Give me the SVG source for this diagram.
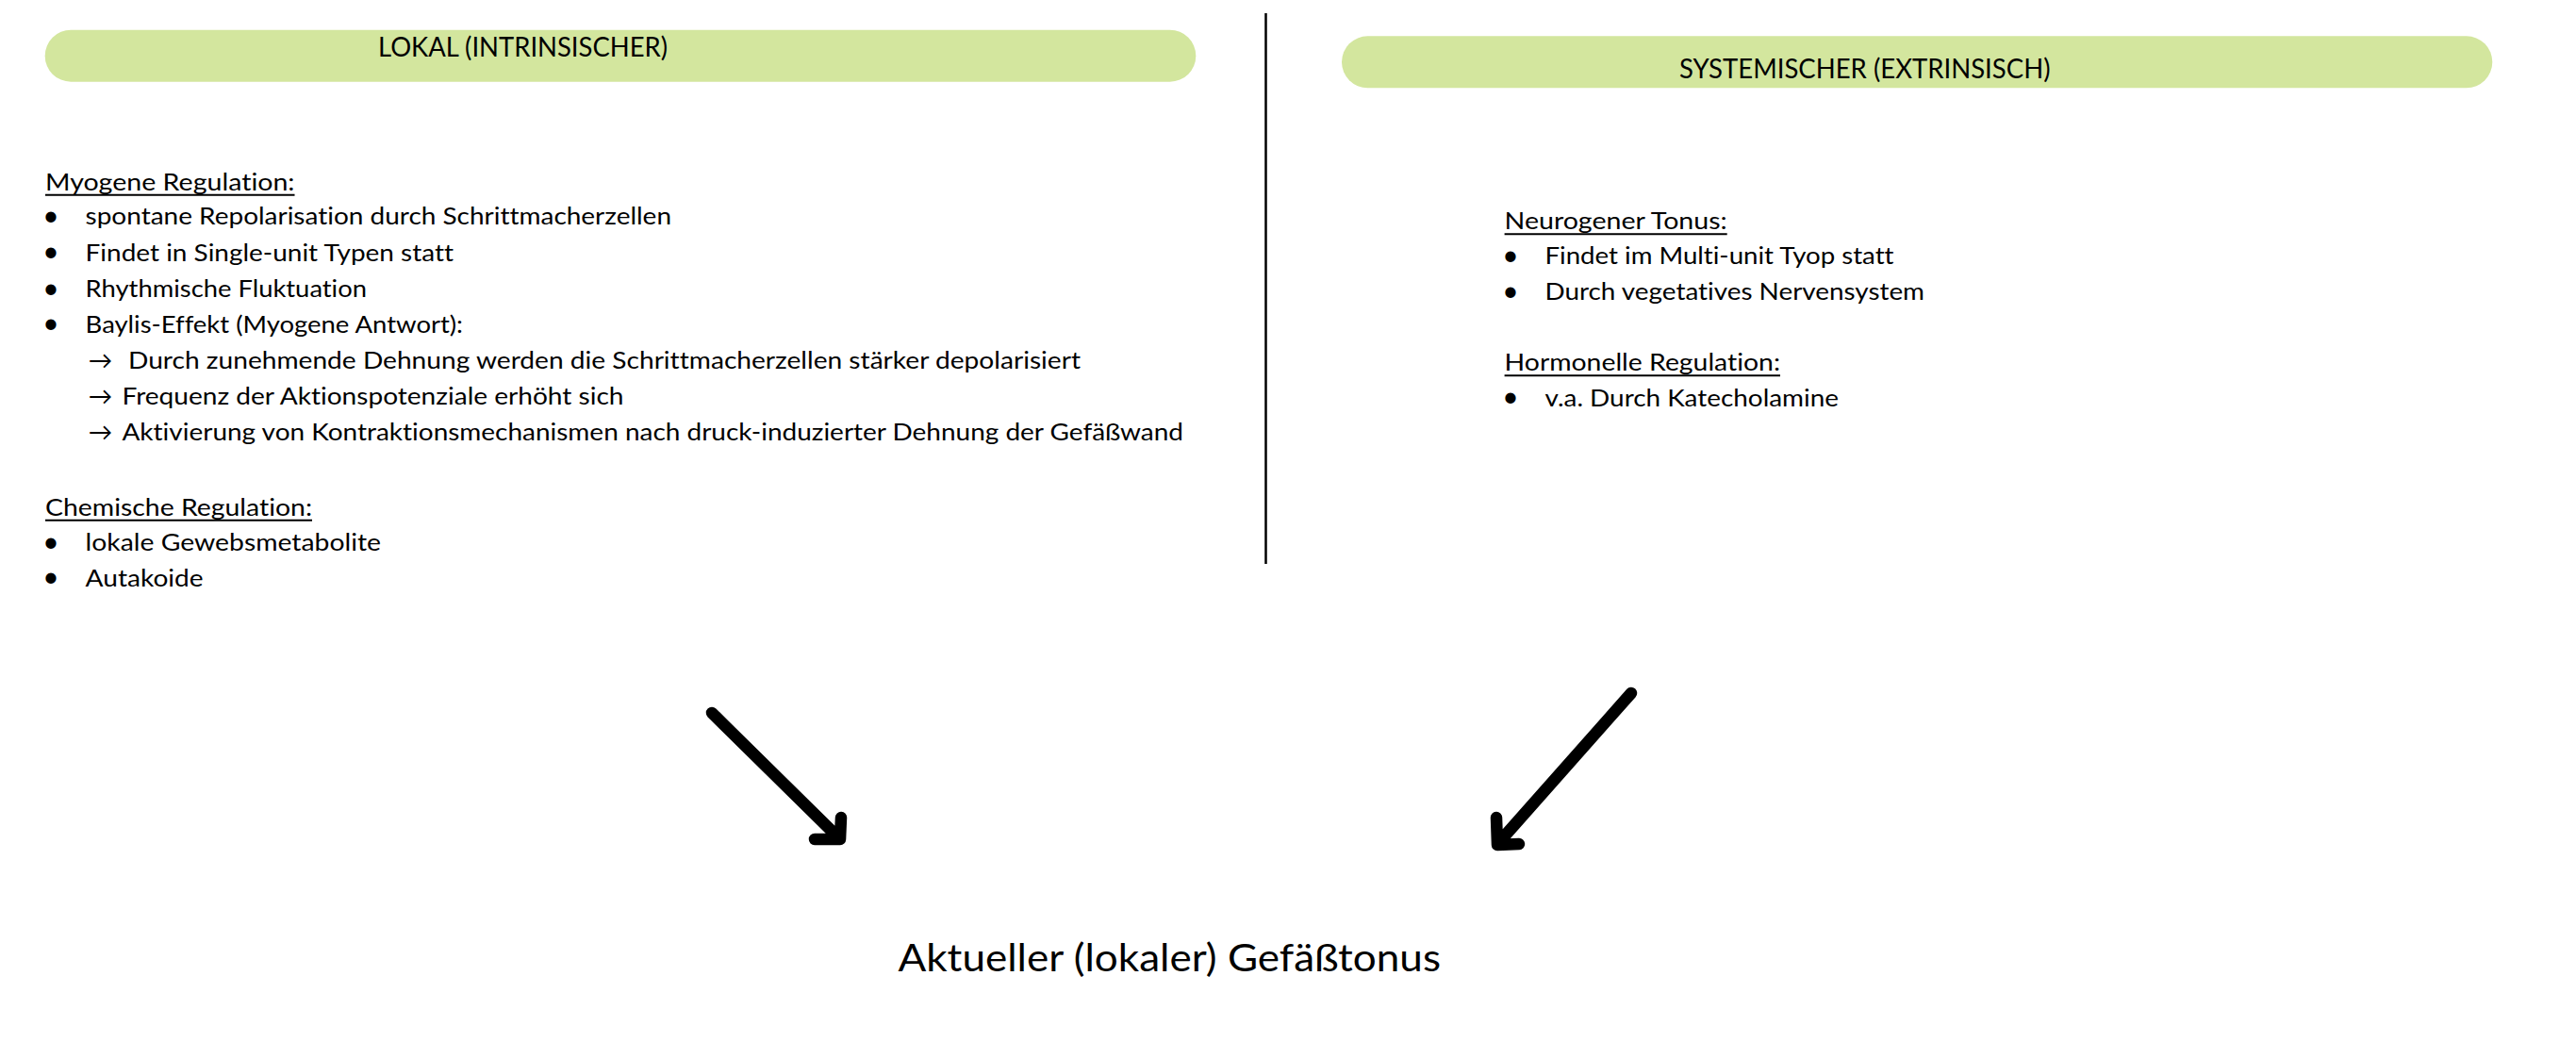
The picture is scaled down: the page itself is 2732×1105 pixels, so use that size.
<svg xmlns="http://www.w3.org/2000/svg" width="2732" height="1105" viewBox="0 0 2732 1105">
<style>
text{font-family:Lato,"Noto Sans","Liberation Sans",sans-serif;fill:#000;font-variant-ligatures:none;font-feature-settings:"liga" 0,"clig" 0}
.b{font-size:25.5px}
.h{font-size:28px}
.big{font-size:41px}
.dot{font-size:30px}
.ul{stroke:#000;stroke-width:2}
.pill{fill:#D3E69E}
.arr{fill:none;stroke:#000;stroke-width:12.5;stroke-linecap:round;stroke-linejoin:round}
</style>
<rect width="2732" height="1105" fill="#fff"/>
<g id="header-local">
<rect class="pill" x="47.7" y="31.7" width="1220.6" height="55" rx="27.5"/>
<text class="h" x="401" y="60" textLength="307" lengthAdjust="spacingAndGlyphs">LOKAL (INTRINSISCHER)</text>
</g>
<g id="header-systemic">
<rect class="pill" x="1423" y="38.3" width="1220.3" height="55" rx="27.5"/>
<text class="h" x="1781" y="83" textLength="393.5" lengthAdjust="spacingAndGlyphs">SYSTEMISCHER (EXTRINSISCH)</text>
</g>
<line id="divider" x1="1342.5" y1="14" x2="1342.5" y2="598" stroke="#000" stroke-width="2.5"/>
<g id="local-content">
<text class="b" x="48" y="201.7" textLength="264.5" lengthAdjust="spacingAndGlyphs">Myogene Regulation:</text>
<line class="ul" x1="48" y1="206.7" x2="312.5" y2="206.7"/>
<text class="dot" x="54" y="239" text-anchor="middle">•</text>
<text class="b" x="90.6" y="238.3" textLength="621.4" lengthAdjust="spacingAndGlyphs">spontane Repolarisation durch Schrittmacherzellen</text>
<text class="dot" x="54" y="277.4" text-anchor="middle">•</text>
<text class="b" x="90.6" y="276.7" textLength="390.4" lengthAdjust="spacingAndGlyphs">Findet in Single-unit Typen statt</text>
<text class="dot" x="54" y="315.7" text-anchor="middle">•</text>
<text class="b" x="90.6" y="315" textLength="298.4" lengthAdjust="spacingAndGlyphs">Rhythmische Fluktuation</text>
<text class="dot" x="54" y="353.4" text-anchor="middle">•</text>
<text class="b" x="90.6" y="352.7" textLength="400.4" lengthAdjust="spacingAndGlyphs">Baylis-Effekt (Myogene Antwort):</text>
<text class="b" x="93.7" y="390.7">→</text>
<text class="b" x="136" y="390.7" textLength="1010" lengthAdjust="spacingAndGlyphs">Durch zunehmende Dehnung werden die Schrittmacherzellen stärker depolarisiert</text>
<text class="b" x="93.7" y="429.3">→</text>
<text class="b" x="129.5" y="429.3" textLength="532" lengthAdjust="spacingAndGlyphs">Frequenz der Aktionspotenziale erhöht sich</text>
<text class="b" x="93.7" y="467.3">→</text>
<text class="b" x="129.5" y="467.3" textLength="1125.5" lengthAdjust="spacingAndGlyphs">Aktivierung von Kontraktionsmechanismen nach druck-induzierter Dehnung der Gefäßwand</text>
<text class="b" x="48" y="546.7" textLength="283" lengthAdjust="spacingAndGlyphs">Chemische Regulation:</text>
<line class="ul" x1="48" y1="551.7" x2="331" y2="551.7"/>
<text class="dot" x="54" y="584.7" text-anchor="middle">•</text>
<text class="b" x="90.6" y="584" textLength="313.4" lengthAdjust="spacingAndGlyphs">lokale Gewebsmetabolite</text>
<text class="dot" x="54" y="622.4" text-anchor="middle">•</text>
<text class="b" x="90.6" y="621.7" textLength="125" lengthAdjust="spacingAndGlyphs">Autakoide</text>
</g>
<g id="systemic-content">
<text class="b" x="1595.6" y="243.3" textLength="236.1" lengthAdjust="spacingAndGlyphs">Neurogener Tonus:</text>
<line class="ul" x1="1595.6" y1="248.3" x2="1831.7" y2="248.3"/>
<text class="dot" x="1602" y="280.7" text-anchor="middle">•</text>
<text class="b" x="1638.5" y="280" textLength="370" lengthAdjust="spacingAndGlyphs">Findet im Multi-unit Tyop statt</text>
<text class="dot" x="1602" y="319" text-anchor="middle">•</text>
<text class="b" x="1638.5" y="318.3" textLength="402.5" lengthAdjust="spacingAndGlyphs">Durch vegetatives Nervensystem</text>
<text class="b" x="1595.6" y="393.3" textLength="292.4" lengthAdjust="spacingAndGlyphs">Hormonelle Regulation:</text>
<line class="ul" x1="1595.6" y1="398.3" x2="1888" y2="398.3"/>
<text class="dot" x="1602" y="431.4" text-anchor="middle">•</text>
<text class="b" x="1638.5" y="430.7" textLength="311.5" lengthAdjust="spacingAndGlyphs">v.a. Durch Katecholamine</text>
</g>
<g id="result">
<text class="big" x="952.5" y="1030" textLength="575.5" lengthAdjust="spacingAndGlyphs">Aktueller (lokaler) Gefäßtonus</text>
</g>
<g id="connectors">
<path class="arr" d="M755,756 L889,888 M864,890 L891,890 L892,867"/>
<path class="arr" d="M1730,735 L1590,893 M1587,867 L1588,896 L1611,895"/>
</g>
</svg>
